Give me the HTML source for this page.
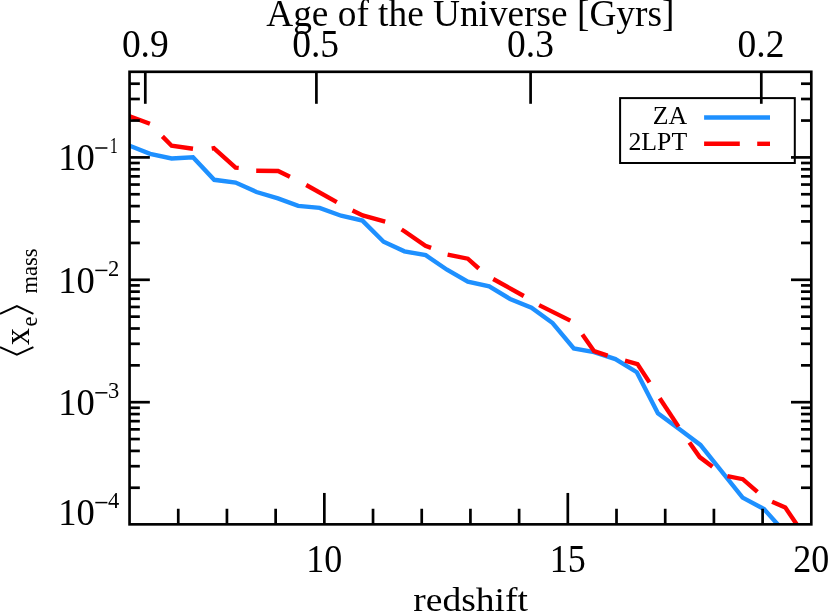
<!DOCTYPE html>
<html><head><meta charset="utf-8"><title>chart</title>
<style>html,body{margin:0;padding:0;background:#fff;overflow:hidden}svg{display:block}text{font-family:"Liberation Serif",serif;fill:#000}svg{will-change:transform}</style>
</head><body>
<svg width="829" height="612" viewBox="0 0 829 612">
<rect x="0" y="0" width="829" height="612" fill="#fff"/>
<defs><clipPath id="c"><rect x="129.55" y="71.8" width="681.75" height="452.55"/></clipPath></defs>
<g clip-path="url(#c)" fill="none" stroke-linejoin="miter" stroke-linecap="butt">
<polyline stroke="#1e90ff" stroke-width="4.4" points="108.2,138.0 129.6,145.7 150.1,153.9 171.6,158.5 193.0,157.2 214.2,179.8 235.6,182.6 256.5,192.0 277.9,198.4 298.2,205.9 319.6,207.9 341.1,215.7 362.4,220.6 383.6,241.7 404.4,251.3 425.7,255.2 447.0,269.7 467.8,281.6 489.2,286.4 510.1,299.0 531.5,307.8 552.6,323.0 573.8,348.4 594.1,352.2 615.4,359.1 636.8,372.2 657.9,413.2 679.2,429.1 700.4,444.9 742.6,497.6 764.0,509.1 785.3,532.8"/>
<polyline stroke="#ff0000" stroke-width="4.4" points="108.2,108.2 129.6,116.2 149.9,123.8"/>
<polyline stroke="#ff0000" stroke-width="4.4" points="162.4,136.4 171.6,145.7 193.0,148.7"/>
<polyline stroke="#ff0000" stroke-width="4.4" points="211.7,148.6 213.8,148.2 235.6,167.6 238.7,167.9"/>
<polyline stroke="#ff0000" stroke-width="4.4" points="256.2,170.8 278.1,171.0 289.9,176.7"/>
<polyline stroke="#ff0000" stroke-width="4.4" points="306.2,185.0 336.8,202.2"/>
<polyline stroke="#ff0000" stroke-width="4.4" points="352.5,210.5 362.7,215.4 385.2,221.6"/>
<polyline stroke="#ff0000" stroke-width="4.4" points="401.6,229.5 404.8,231.5 425.4,245.8 431.1,247.8"/>
<polyline stroke="#ff0000" stroke-width="4.4" points="447.6,254.7 467.8,258.7 478.8,268.5"/>
<polyline stroke="#ff0000" stroke-width="4.4" points="493.2,279.0 523.8,296.0"/>
<polyline stroke="#ff0000" stroke-width="4.4" points="539.1,305.1 570.3,320.6"/>
<polyline stroke="#ff0000" stroke-width="4.4" points="582.4,334.6 594.1,351.2 607.6,355.6"/>
<polyline stroke="#ff0000" stroke-width="4.4" points="625.0,360.6 637.5,364.1 649.5,382.4"/>
<polyline stroke="#ff0000" stroke-width="4.4" points="659.7,398.2 678.5,426.6"/>
<polyline stroke="#ff0000" stroke-width="4.4" points="689.4,442.4 699.7,457.1 712.5,466.7"/>
<polyline stroke="#ff0000" stroke-width="4.4" points="727.4,476.2 742.8,479.2 757.4,491.8"/>
<polyline stroke="#ff0000" stroke-width="4.4" points="772.1,501.8 785.3,507.6 800.0,529.2"/>
</g>
<g stroke="#000" fill="none" stroke-linecap="butt">
<line x1="178.25" y1="524.35" x2="178.25" y2="508.75" stroke-width="2.7"/>
<line x1="226.94" y1="524.35" x2="226.94" y2="508.75" stroke-width="2.7"/>
<line x1="275.64" y1="524.35" x2="275.64" y2="508.75" stroke-width="2.7"/>
<line x1="324.34" y1="524.35" x2="324.34" y2="492.95000000000005" stroke-width="2.7"/>
<line x1="373.03" y1="524.35" x2="373.03" y2="508.75" stroke-width="2.7"/>
<line x1="421.73" y1="524.35" x2="421.73" y2="508.75" stroke-width="2.7"/>
<line x1="470.43" y1="524.35" x2="470.43" y2="508.75" stroke-width="2.7"/>
<line x1="519.12" y1="524.35" x2="519.12" y2="508.75" stroke-width="2.7"/>
<line x1="567.82" y1="524.35" x2="567.82" y2="492.95000000000005" stroke-width="2.7"/>
<line x1="616.51" y1="524.35" x2="616.51" y2="508.75" stroke-width="2.7"/>
<line x1="665.21" y1="524.35" x2="665.21" y2="508.75" stroke-width="2.7"/>
<line x1="713.91" y1="524.35" x2="713.91" y2="508.75" stroke-width="2.7"/>
<line x1="762.60" y1="524.35" x2="762.60" y2="508.75" stroke-width="2.7"/>
<line x1="145.3" y1="71.8" x2="145.3" y2="103.8" stroke-width="2.7"/>
<line x1="316.4" y1="71.8" x2="316.4" y2="103.8" stroke-width="2.7"/>
<line x1="530.6" y1="71.8" x2="530.6" y2="103.8" stroke-width="2.7"/>
<line x1="761.3" y1="71.8" x2="761.3" y2="103.8" stroke-width="2.7"/>
<line x1="129.55" y1="487.75" x2="139.85000000000002" y2="487.75" stroke-width="2.7"/>
<line x1="811.3" y1="487.75" x2="801.0" y2="487.75" stroke-width="2.7"/>
<line x1="129.55" y1="466.20" x2="139.85000000000002" y2="466.20" stroke-width="2.7"/>
<line x1="811.3" y1="466.20" x2="801.0" y2="466.20" stroke-width="2.7"/>
<line x1="129.55" y1="450.91" x2="139.85000000000002" y2="450.91" stroke-width="2.7"/>
<line x1="811.3" y1="450.91" x2="801.0" y2="450.91" stroke-width="2.7"/>
<line x1="129.55" y1="439.05" x2="139.85000000000002" y2="439.05" stroke-width="2.7"/>
<line x1="811.3" y1="439.05" x2="801.0" y2="439.05" stroke-width="2.7"/>
<line x1="129.55" y1="429.35" x2="139.85000000000002" y2="429.35" stroke-width="2.7"/>
<line x1="811.3" y1="429.35" x2="801.0" y2="429.35" stroke-width="2.7"/>
<line x1="129.55" y1="421.16" x2="139.85000000000002" y2="421.16" stroke-width="2.7"/>
<line x1="811.3" y1="421.16" x2="801.0" y2="421.16" stroke-width="2.7"/>
<line x1="129.55" y1="414.06" x2="139.85000000000002" y2="414.06" stroke-width="2.7"/>
<line x1="811.3" y1="414.06" x2="801.0" y2="414.06" stroke-width="2.7"/>
<line x1="129.55" y1="407.80" x2="139.85000000000002" y2="407.80" stroke-width="2.7"/>
<line x1="811.3" y1="407.80" x2="801.0" y2="407.80" stroke-width="2.7"/>
<line x1="129.55" y1="402.20" x2="149.85000000000002" y2="402.20" stroke-width="2.7"/>
<line x1="811.3" y1="402.20" x2="791.0" y2="402.20" stroke-width="2.7"/>
<line x1="129.55" y1="365.35" x2="139.85000000000002" y2="365.35" stroke-width="2.7"/>
<line x1="811.3" y1="365.35" x2="801.0" y2="365.35" stroke-width="2.7"/>
<line x1="129.55" y1="343.80" x2="139.85000000000002" y2="343.80" stroke-width="2.7"/>
<line x1="811.3" y1="343.80" x2="801.0" y2="343.80" stroke-width="2.7"/>
<line x1="129.55" y1="328.51" x2="139.85000000000002" y2="328.51" stroke-width="2.7"/>
<line x1="811.3" y1="328.51" x2="801.0" y2="328.51" stroke-width="2.7"/>
<line x1="129.55" y1="316.65" x2="139.85000000000002" y2="316.65" stroke-width="2.7"/>
<line x1="811.3" y1="316.65" x2="801.0" y2="316.65" stroke-width="2.7"/>
<line x1="129.55" y1="306.95" x2="139.85000000000002" y2="306.95" stroke-width="2.7"/>
<line x1="811.3" y1="306.95" x2="801.0" y2="306.95" stroke-width="2.7"/>
<line x1="129.55" y1="298.76" x2="139.85000000000002" y2="298.76" stroke-width="2.7"/>
<line x1="811.3" y1="298.76" x2="801.0" y2="298.76" stroke-width="2.7"/>
<line x1="129.55" y1="291.66" x2="139.85000000000002" y2="291.66" stroke-width="2.7"/>
<line x1="811.3" y1="291.66" x2="801.0" y2="291.66" stroke-width="2.7"/>
<line x1="129.55" y1="285.40" x2="139.85000000000002" y2="285.40" stroke-width="2.7"/>
<line x1="811.3" y1="285.40" x2="801.0" y2="285.40" stroke-width="2.7"/>
<line x1="129.55" y1="279.80" x2="149.85000000000002" y2="279.80" stroke-width="2.7"/>
<line x1="811.3" y1="279.80" x2="791.0" y2="279.80" stroke-width="2.7"/>
<line x1="129.55" y1="242.95" x2="139.85000000000002" y2="242.95" stroke-width="2.7"/>
<line x1="811.3" y1="242.95" x2="801.0" y2="242.95" stroke-width="2.7"/>
<line x1="129.55" y1="221.40" x2="139.85000000000002" y2="221.40" stroke-width="2.7"/>
<line x1="811.3" y1="221.40" x2="801.0" y2="221.40" stroke-width="2.7"/>
<line x1="129.55" y1="206.11" x2="139.85000000000002" y2="206.11" stroke-width="2.7"/>
<line x1="811.3" y1="206.11" x2="801.0" y2="206.11" stroke-width="2.7"/>
<line x1="129.55" y1="194.25" x2="139.85000000000002" y2="194.25" stroke-width="2.7"/>
<line x1="811.3" y1="194.25" x2="801.0" y2="194.25" stroke-width="2.7"/>
<line x1="129.55" y1="184.55" x2="139.85000000000002" y2="184.55" stroke-width="2.7"/>
<line x1="811.3" y1="184.55" x2="801.0" y2="184.55" stroke-width="2.7"/>
<line x1="129.55" y1="176.36" x2="139.85000000000002" y2="176.36" stroke-width="2.7"/>
<line x1="811.3" y1="176.36" x2="801.0" y2="176.36" stroke-width="2.7"/>
<line x1="129.55" y1="169.26" x2="139.85000000000002" y2="169.26" stroke-width="2.7"/>
<line x1="811.3" y1="169.26" x2="801.0" y2="169.26" stroke-width="2.7"/>
<line x1="129.55" y1="163.00" x2="139.85000000000002" y2="163.00" stroke-width="2.7"/>
<line x1="811.3" y1="163.00" x2="801.0" y2="163.00" stroke-width="2.7"/>
<line x1="129.55" y1="157.40" x2="149.85000000000002" y2="157.40" stroke-width="2.7"/>
<line x1="811.3" y1="157.40" x2="791.0" y2="157.40" stroke-width="2.7"/>
<line x1="129.55" y1="120.55" x2="139.85000000000002" y2="120.55" stroke-width="2.7"/>
<line x1="811.3" y1="120.55" x2="801.0" y2="120.55" stroke-width="2.7"/>
<line x1="129.55" y1="99.00" x2="139.85000000000002" y2="99.00" stroke-width="2.7"/>
<line x1="811.3" y1="99.00" x2="801.0" y2="99.00" stroke-width="2.7"/>
<line x1="129.55" y1="83.71" x2="139.85000000000002" y2="83.71" stroke-width="2.7"/>
<line x1="811.3" y1="83.71" x2="801.0" y2="83.71" stroke-width="2.7"/>
</g>
<rect x="129.55" y="71.8" width="681.75" height="452.55" fill="none" stroke="#000" stroke-width="2.65"/>
<rect x="620.1" y="98.1" width="174.7" height="64.9" fill="none" stroke="#000" stroke-width="2"/>
<line x1="704.1" y1="117.5" x2="770" y2="117.5" stroke="#1e90ff" stroke-width="4.4"/>
<line x1="704.1" y1="143.8" x2="739.8" y2="143.8" stroke="#ff0000" stroke-width="4.4"/>
<line x1="757.2" y1="143.8" x2="770" y2="143.8" stroke="#ff0000" stroke-width="4.4"/>
<text x="687.2" y="123.6" font-size="25.8" text-anchor="end">ZA</text>
<text x="687.2" y="149.7" font-size="25.8" text-anchor="end">2LPT</text>
<text x="470.3" y="25.5" font-size="37.3" text-anchor="middle">Age of the Universe [Gyrs]</text>
<text transform="translate(145.3,57.3) scale(1,1.05)" x="0" y="0" font-size="37.5" text-anchor="middle">0.9</text>
<text transform="translate(315.6,57.3) scale(1,1.05)" x="0" y="0" font-size="37.5" text-anchor="middle">0.5</text>
<text transform="translate(530.5,57.3) scale(1,1.05)" x="0" y="0" font-size="37.5" text-anchor="middle">0.3</text>
<text transform="translate(761.0,57.3) scale(1,1.05)" x="0" y="0" font-size="37.5" text-anchor="middle">0.2</text>
<text transform="translate(324.34,572.0) scale(0.96,1.04)" x="0" y="0" font-size="37.5" text-anchor="middle">10</text>
<text transform="translate(567.82,572.0) scale(0.96,1.04)" x="0" y="0" font-size="37.5" text-anchor="middle">15</text>
<text transform="translate(811.30,572.0) scale(0.96,1.04)" x="0" y="0" font-size="37.5" text-anchor="middle">20</text>
<text transform="translate(470.6,611) scale(1,0.91)" x="0" y="0" font-size="37.5" text-anchor="middle">redshift</text>
<text transform="translate(58.2,170.30) scale(0.976,1.03)" x="0" y="0" font-size="37.5">10</text>
<line x1="95.3" y1="148.00" x2="107.4" y2="148.00" stroke="#000" stroke-width="1.5"/>
<text transform="translate(113.7,153.20) scale(0.72,1.06)" x="0" y="0" text-anchor="middle" font-size="22.5">1</text>
<text transform="translate(58.2,292.70) scale(0.976,1.03)" x="0" y="0" font-size="37.5">10</text>
<line x1="95.3" y1="270.40" x2="107.4" y2="270.40" stroke="#000" stroke-width="1.5"/>
<text x="113.6" y="275.60" text-anchor="middle" font-size="22.5">2</text>
<text transform="translate(58.2,415.10) scale(0.976,1.03)" x="0" y="0" font-size="37.5">10</text>
<line x1="95.3" y1="392.80" x2="107.4" y2="392.80" stroke="#000" stroke-width="1.5"/>
<text x="113.6" y="398.00" text-anchor="middle" font-size="22.5">3</text>
<text transform="translate(58.2,524.90) scale(0.976,1.03)" x="0" y="0" font-size="37.5">10</text>
<line x1="95.3" y1="502.60" x2="107.4" y2="502.60" stroke="#000" stroke-width="1.5"/>
<text x="113.6" y="507.80" text-anchor="middle" font-size="22.5">4</text>
<g transform="translate(28.1,0) rotate(-90)">
<text transform="translate(-344.9,0.4) scale(0.9,0.97)" x="0" y="0" font-size="37.5">x</text>
<text x="-326.6" y="8.7" font-size="22.5">e</text>
<text x="-293.5" y="8.7" font-size="22.5">mass</text>
</g>
<polyline points="0,347.1 16.9,354.7 33.4,347.1" fill="none" stroke="#000" stroke-width="1.9"/>
<polyline points="0,313.9 16.9,306.1 33.4,313.9" fill="none" stroke="#000" stroke-width="1.9"/>
</svg></body></html>
